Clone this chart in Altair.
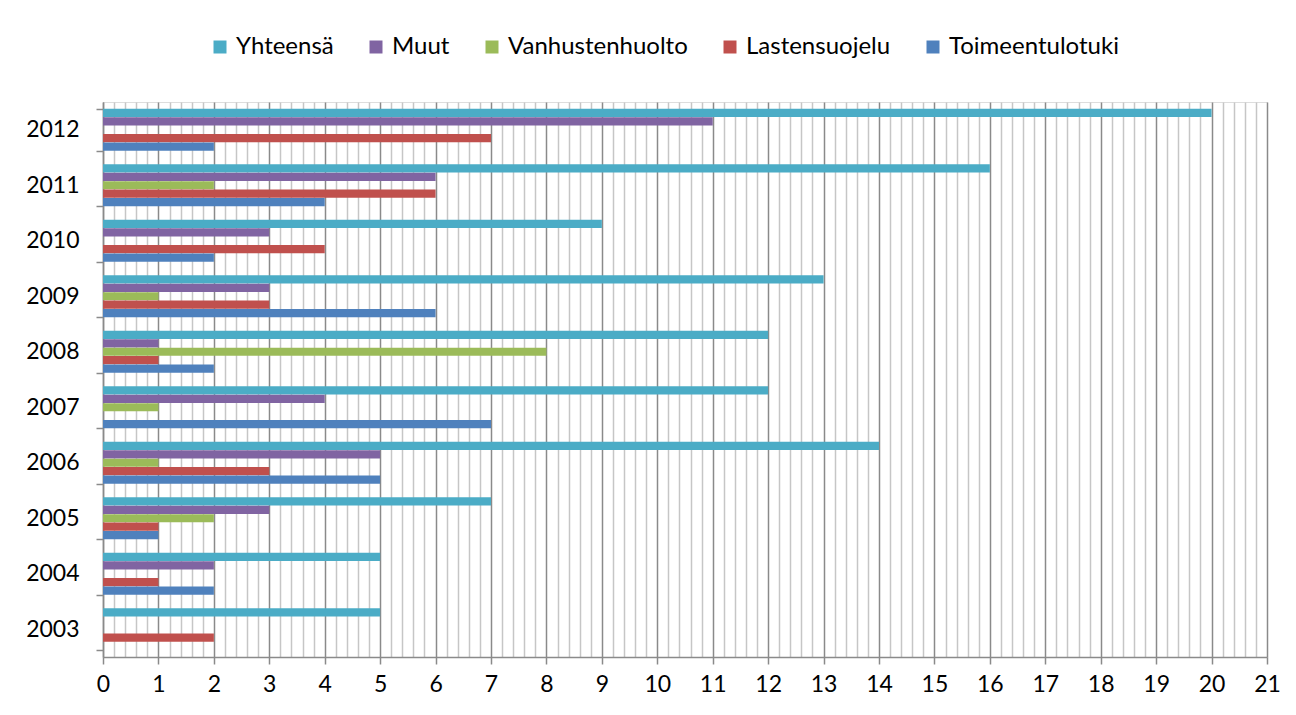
import altair as alt
import pandas as pd

years = ["2003", "2004", "2005", "2006", "2007", "2008", "2009", "2010", "2011", "2012"]
series = ["Yhteensä", "Muut", "Vanhustenhuolto", "Lastensuojelu", "Toimeentulotuki"]
colors = ["#4BACC6", "#8064A2", "#9BBB59", "#C0504D", "#4F81BD"]

yhteensa = [5, 5, 7, 14, 12, 12, 13, 9, 16, 20]
muut = [0, 2, 3, 5, 4, 1, 3, 3, 6, 11]
vanhustenhuolto = [0, 0, 2, 1, 1, 8, 1, 0, 2, 0]
lastensuojelu = [2, 1, 1, 3, 0, 1, 3, 4, 6, 7]
toimeentulotuki = [0, 2, 1, 5, 7, 2, 6, 2, 4, 2]

x_ticks = [round(i * 0.2, 1) for i in range(0, 106)]

values = [yhteensa, muut, vanhustenhuolto, lastensuojelu, toimeentulotuki]
rows = []
for s, vals in zip(series, values):
    for y, v in zip(years, vals):
        rows.append({"year": y, "series": s, "value": v})
df = pd.DataFrame(rows)

FONT = "Lato"
is_int = "abs(datum.value - round(datum.value)) < 0.001"

chart = alt.Chart(df).mark_bar().encode(
    x=alt.X(
        "value:Q",
        scale=alt.Scale(domain=[0, 21], nice=False, zero=True),
        axis=alt.Axis(
            title=None,
            values=x_ticks,
            labelExpr=f"{is_int} ? format(datum.value, 'd') : ''",
            grid=True,
            gridColor={"condition": {"test": is_int, "value": "#8a8a8a"}, "value": "#c6c6c6"},
            gridWidth=1.5,
            tickColor={"condition": {"test": is_int, "value": "#8a8a8a"}, "value": "transparent"},
            tickSize=7,
            tickWidth=1.5,
            domainColor="#8a8a8a",
            domainWidth=1.5,
            labelFont=FONT,
            labelFontSize=23,
            labelColor="#000000",
            labelPadding=9,
            labelFlush=False,
        ),
    ),
    y=alt.Y(
        "year:N",
        sort="descending",
        scale=alt.Scale(paddingInner=0.24, paddingOuter=0.12),
        axis=alt.Axis(
            title=None,
            grid=False,
            tickBand="extent",
            tickSize=7,
            tickWidth=1.5,
            tickColor="#8a8a8a",
            domainColor="#8a8a8a",
            domainWidth=1.5,
            labelFont=FONT,
            labelFontSize=23,
            labelColor="#000000",
            labelPadding=17,
        ),
    ),
    yOffset=alt.YOffset("series:N", sort=series, scale=alt.Scale(paddingInner=0.03)),
    color=alt.Color(
        "series:N",
        sort=series,
        scale=alt.Scale(domain=series, range=colors),
        legend=alt.Legend(
            title=None,
            orient="none",
            direction="horizontal",
            legendX=105,
            legendY=-67,
            symbolType="square",
            symbolSize=169,
            symbolStrokeWidth=0,
            labelFont=FONT,
            labelFontSize=24,
            labelColor="#000000",
            labelLimit=0,
            labelOffset=4,
            columnPadding=30,
        ),
    ),
).properties(
    width=1164,
    height=555,
    autosize=alt.AutoSizeParams(type="none"),
    padding={"left": 95, "top": 94, "right": 21, "bottom": 50},
).configure_view(stroke=None).configure(background="white")

chart.save("out.html", embed_options={"renderer": "svg", "actions": False})
